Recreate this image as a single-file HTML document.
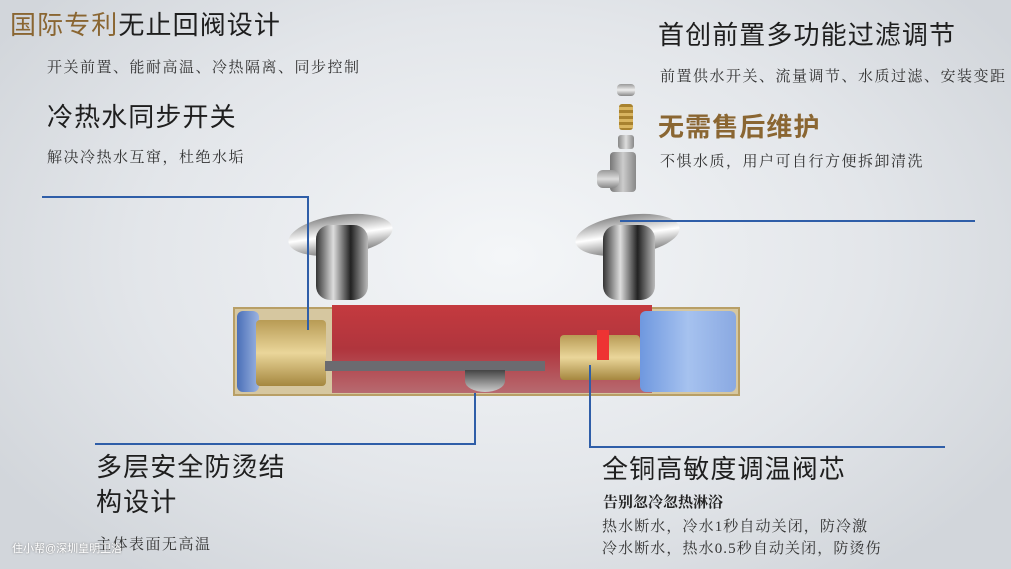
<!DOCTYPE html>
<html><head><meta charset="utf-8"><style>
*{margin:0;padding:0;box-sizing:border-box}
body{width:1011px;height:569px;overflow:hidden;position:relative;font-family:"Liberation Sans","Noto Sans CJK SC",sans-serif;color:#222;
background:radial-gradient(ellipse 60% 70% at 50% 45%,#f4f6f8 0%,#e3e6ea 60%,#d2d6db 100%);}
.t{position:absolute;white-space:nowrap}
.h{font-size:26px;color:#1e1e1e;letter-spacing:1.1px}
.s{font-size:15px;color:#333;font-family:"Liberation Serif","Noto Serif CJK SC",serif;letter-spacing:1.5px}
.gold{color:#8a6632}
.abs{position:absolute}
</style></head><body>
<div class="t h" style="left:10px;top:5px"><span class="gold">国际专利</span>无止回阀设计</div>
<div class="t s" style="left:47px;top:56px">开关前置、能耐高温、冷热隔离、同步控制</div>
<div class="t h" style="left:47px;top:97px">冷热水同步开关</div>
<div class="t s" style="left:47px;top:146px">解决冷热水互窜，杜绝水垢</div>

<div class="t h" style="left:658px;top:15px">首创前置多功能过滤调节</div>
<div class="t s" style="left:660px;top:65px">前置供水开关、流量调节、水质过滤、安装变距</div>
<div class="t h gold" style="left:658px;top:107px;font-weight:bold">无需售后维护</div>
<div class="t s" style="left:660px;top:150px">不惧水质，用户可自行方便拆卸清洗</div>

<div class="t h" style="left:96px;top:450px;line-height:35px">多层安全防烫结<br>构设计</div>
<div class="t s" style="left:96px;top:533px">主体表面无高温</div>
<div class="t" style="left:12px;top:540px;font-size:11px;color:#fff;text-shadow:0 0 2px #777">住小帮@深圳皇明卫浴</div>

<div class="t h" style="left:602px;top:449px">全铜高敏度调温阀芯</div>
<div class="t" style="left:603px;top:491px;font-size:15px;font-weight:bold;color:#222;font-family:'Liberation Serif','Noto Serif CJK SC',serif">告别忽冷忽热淋浴</div>
<div class="t s" style="left:602px;top:516px;line-height:22px;letter-spacing:1.1px">热水断水，冷水1秒自动关闭，防冷激<br>冷水断水，热水0.5秒自动关闭，防烫伤</div>

<!-- exploded filter parts -->
<div class="abs" style="left:617px;top:84px;width:18px;height:12px;border-radius:4px;background:linear-gradient(#999,#eee,#888)"></div>
<div class="abs" style="left:619px;top:104px;width:14px;height:26px;border-radius:3px;background:repeating-linear-gradient(#a8822f 0 3px,#d9b560 3px 6px)"></div>
<div class="abs" style="left:618px;top:135px;width:16px;height:14px;border-radius:3px;background:linear-gradient(90deg,#888,#ddd,#888)"></div>
<div class="abs" style="left:610px;top:152px;width:26px;height:40px;border-radius:4px;background:linear-gradient(90deg,#777,#ccc,#888)"></div>
<div class="abs" style="left:597px;top:170px;width:22px;height:18px;border-radius:6px;background:linear-gradient(#999,#ddd,#888)"></div>

<!-- valve body -->
<div class="abs" style="left:288px;top:215px;width:105px;height:40px;border-radius:50%;background:linear-gradient(#888,#fff,#777);transform:rotate(-8deg)"></div>
<div class="abs" style="left:316px;top:225px;width:52px;height:75px;border-radius:14px;background:linear-gradient(90deg,#333,#ddd,#222,#bbb)"></div>
<div class="abs" style="left:575px;top:215px;width:105px;height:40px;border-radius:50%;background:linear-gradient(#888,#fff,#777);transform:rotate(-8deg)"></div>
<div class="abs" style="left:603px;top:225px;width:52px;height:75px;border-radius:14px;background:linear-gradient(90deg,#333,#ddd,#222,#bbb)"></div>
<div class="abs" style="left:233px;top:307px;width:507px;height:89px;background:#d6c7a0;border:2px solid #b89f66"></div>
<div class="abs" style="left:237px;top:311px;width:22px;height:81px;border-radius:6px;background:linear-gradient(90deg,#4a6fb8,#9bb3e0)"></div>
<div class="abs" style="left:256px;top:320px;width:70px;height:66px;border-radius:4px;background:linear-gradient(#b89b55,#ead69a,#a5873f)"></div>
<div class="abs" style="left:332px;top:305px;width:320px;height:88px;background:linear-gradient(#c43a3f,#b0353d 50%,#b76a70)"></div>
<div class="abs" style="left:325px;top:361px;width:220px;height:10px;background:#6b6b70"></div>
<div class="abs" style="left:560px;top:335px;width:80px;height:45px;border-radius:4px;background:linear-gradient(#b89b55,#ead69a,#a5873f)"></div>
<div class="abs" style="left:597px;top:330px;width:12px;height:30px;background:#e33"></div>
<div class="abs" style="left:640px;top:311px;width:96px;height:81px;border-radius:6px;background:linear-gradient(90deg,#6f98df,#a6c2ef,#8aa9e2)"></div>
<div class="abs" style="left:465px;top:370px;width:40px;height:22px;border-radius:0 0 50% 50%;background:linear-gradient(#444,#ccc)"></div>

<svg class="abs" style="left:0;top:0" width="1011" height="569">
<g stroke="#2f5ea8" stroke-width="2" fill="none">
<polyline points="42,197 308,197 308,330"/>
<polyline points="975,221 620,221"/>
<polyline points="95,444 475,444 475,393"/>
<polyline points="945,447 590,447 590,365"/>
</g></svg>
</body></html>
